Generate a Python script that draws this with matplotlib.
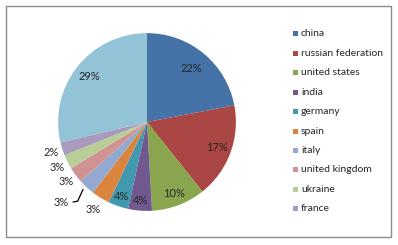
import matplotlib
matplotlib.use("Agg")
import matplotlib.pyplot as plt
from matplotlib.patches import Rectangle
import numpy as np

plt.rcParams['font.family'] = ['Lato', 'DejaVu Sans']

categories = ["china", "russian federation", "united states", "india", "germany",
              "spain", "italy", "united kingdom", "ukraine", "france", "others"]
values = [22.0, 17.3, 9.8, 4.3, 3.7, 3.3, 3.0, 2.9, 2.6, 2.4, 28.7]
pct_labels = ["22%", "17%", "10%", "4%", "4%", "3%", "3%", "3%", "3%", "2%", "29%"]
legend_items = categories[:10]

colors = ["#4572A7", "#AA4643", "#89A54E", "#71588F", "#4198AF", "#DB843D",
          "#93A9CF", "#D19392", "#B9CD96", "#A99BBD", "#92C3D6"]
label_dist = [0.78, 0.84, 0.86, 0.89, 0.88, 1.15, 1.31, 1.13, 1.13, 1.13, 0.83]

W, H = 398, 245
fig = plt.figure(figsize=(W / 100, H / 100), dpi=100)
fig.patch.set_facecolor("white")

# outer frame
fig.patches.append(Rectangle((6 / W, (H - 237) / H), (391 - 6) / W, (237 - 6) / H,
                             transform=fig.transFigure, fill=False,
                             edgecolor="#8c8c8c", linewidth=1.0))

cx, cy = 147, 122
half = 100
ax = fig.add_axes([(cx - half) / W, (H - cy - half) / H, 2 * half / W, 2 * half / H])
wedges, _ = ax.pie(values, colors=colors, startangle=90, counterclock=False,
                   radius=1.0, wedgeprops=dict(linewidth=0))
ax.set_xlim(-1.125, 1.125)
ax.set_ylim(-1.125, 1.125)
ax.set_aspect("equal")
ax.axis("off")

fs = 7.9
for i, w in enumerate(wedges):
    th = np.deg2rad((w.theta1 + w.theta2) / 2)
    d = label_dist[i]
    x, y = d * np.cos(th), d * np.sin(th)
    if categories[i] == "italy":
        # leader line
        ax.plot([-0.72, -0.78, -0.83], [-0.76, -0.89, -0.90],
                color="black", lw=0.9, clip_on=False)
        x, y = -0.97, -0.90
    ax.text(x, y, pct_labels[i], ha="center", va="center", fontsize=fs,
            color="#262626")

# legend
y0 = 34
step = 19.4
for i, name in enumerate(legend_items):
    yy = y0 + i * step
    fig.patches.append(Rectangle((293 / W, (H - yy - 2.5) / H), 5 / W, 5 / H,
                                 transform=fig.transFigure, facecolor=colors[i],
                                 edgecolor="none"))
    fig.text(301 / W, (H - yy) / H, name, ha="left", va="center",
             fontsize=7.5, color="#262626")

fig.savefig("out.png", dpi=100)
